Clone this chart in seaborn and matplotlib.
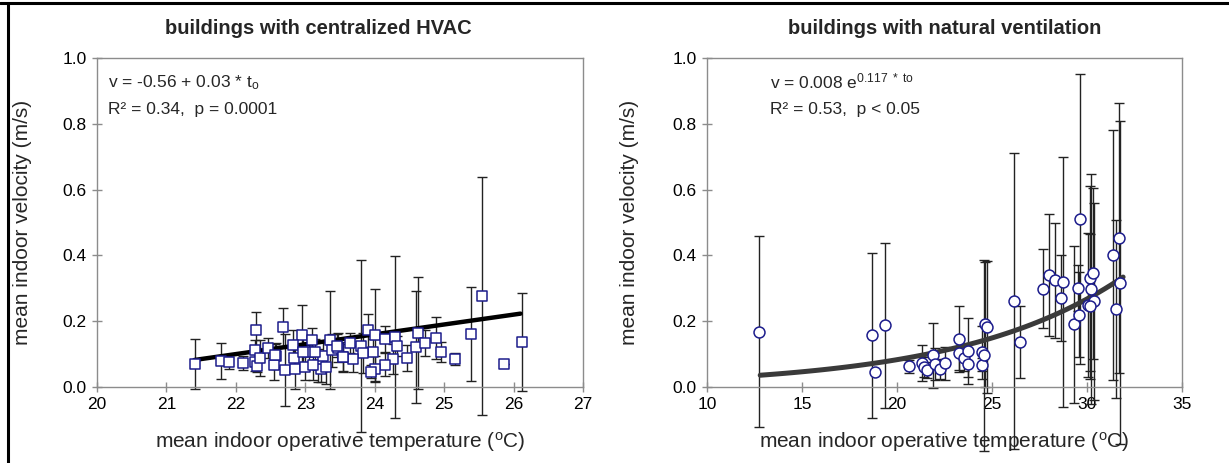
import numpy as np
import pandas as pd
import matplotlib
matplotlib.use("Agg")
import matplotlib.pyplot as plt
import seaborn as sns
from matplotlib.lines import Line2D

# buildings with centralized HVAC: mean operative temp, mean velocity, sd of velocity
hvac_t = [21.41, 21.79, 21.90, 22.10, 22.29, 22.28, 22.27, 22.30, 22.35, 22.68,
          22.58, 22.55, 22.71, 22.95, 22.84, 22.85, 23.10, 23.05, 23.18, 23.22,
          23.26, 23.36, 23.38, 23.30, 23.55, 23.47, 23.80, 23.90, 24.00, 24.15,
          24.29, 24.32, 24.27, 24.15, 24.00, 23.95, 23.97, 23.83, 23.69, 23.54,
          23.65, 23.45, 24.46, 24.60, 24.63, 24.73, 24.88, 24.95, 25.15, 25.38,
          25.54, 25.86, 26.12, 22.47, 22.56, 22.83, 22.97, 23.00, 23.11, 23.14]
hvac_v = [0.070, 0.079, 0.076, 0.073, 0.173, 0.112, 0.075, 0.065, 0.088, 0.182,
          0.094, 0.067, 0.052, 0.158, 0.088, 0.055, 0.143, 0.106, 0.066, 0.055,
          0.094, 0.143, 0.112, 0.060, 0.090, 0.120, 0.125, 0.173, 0.158, 0.146,
          0.152, 0.125, 0.085, 0.067, 0.055, 0.046, 0.107, 0.104, 0.085, 0.091,
          0.134, 0.125, 0.088, 0.122, 0.164, 0.134, 0.149, 0.107, 0.085, 0.161,
          0.277, 0.069, 0.137, 0.118, 0.097, 0.128, 0.107, 0.062, 0.067, 0.107]
hvac_sd = [0.075, 0.055, 0.022, 0.020, 0.055, 0.030, 0.025, 0.020, 0.055, 0.058,
           0.040, 0.045, 0.110, 0.090, 0.030, 0.060, 0.035, 0.040, 0.050, 0.040,
           0.045, 0.150, 0.050, 0.050, 0.040, 0.045, 0.262, 0.050, 0.140, 0.040,
           0.245, 0.030, 0.045, 0.035, 0.040, 0.020, 0.040, 0.060, 0.040, 0.045,
           0.030, 0.035, 0.040, 0.170, 0.170, 0.040, 0.064, 0.030, 0.018, 0.142,
           0.362, 0.000, 0.148, 0.030, 0.035, 0.045, 0.050, 0.040, 0.045, 0.040]
hvac_fit = (-0.56, 0.03)          # v = a + b * to
hvac_fit_range = [21.4, 26.1]

# buildings with natural ventilation
nv_t = [12.72, 18.68, 18.86, 19.35, 20.63, 21.30, 21.40, 21.60, 21.91, 22.00,
        22.26, 22.54, 23.26, 23.26, 23.53, 23.72, 23.75, 24.47, 24.47, 24.60,
        24.65, 24.74, 26.14, 26.49, 27.68, 28.00, 28.30, 28.72, 28.62, 29.30,
        29.50, 29.59, 29.65, 30.04, 30.16, 30.33, 30.21, 30.38, 30.16, 31.38,
        31.68, 31.74, 31.54]
nv_v = [0.168, 0.157, 0.045, 0.187, 0.063, 0.074, 0.060, 0.052, 0.096, 0.070,
        0.055, 0.072, 0.145, 0.103, 0.088, 0.110, 0.070, 0.068, 0.105, 0.096,
        0.190, 0.182, 0.262, 0.137, 0.298, 0.340, 0.325, 0.320, 0.270, 0.190,
        0.300, 0.220, 0.510, 0.249, 0.330, 0.345, 0.297, 0.260, 0.245, 0.400,
        0.453, 0.317, 0.237]
nv_sd = [0.290, 0.250, 0.000, 0.250, 0.020, 0.055, 0.030, 0.025, 0.100, 0.050,
         0.030, 0.050, 0.100, 0.050, 0.040, 0.100, 0.040, 0.020, 0.080, 0.290,
         0.190, 0.200, 0.450, 0.110, 0.120, 0.185, 0.175, 0.380, 0.130, 0.240,
         0.070, 0.130, 0.440, 0.220, 0.280, 0.260, 0.350, 0.300, 0.220, 0.380,
         0.410, 0.490, 0.270]
nv_fit = (0.008, 0.117)           # v = a * exp(b * to)
nv_fit_range = [12.8, 31.9]

sns.set_theme(style="white")
plt.rcParams["font.family"] = ["Liberation Sans", "DejaVu Sans"]
plt.rcParams["mathtext.fontset"] = "custom"
plt.rcParams["mathtext.rm"] = "Liberation Sans"
plt.rcParams["mathtext.it"] = "Liberation Sans:italic"

W, H = 1229, 463
fig = plt.figure(figsize=(W / 100, H / 100), dpi=100)
fig.patch.set_facecolor("white")


def px_axes(x0, x1, y_top, y_bot):
    return fig.add_axes([x0 / W, 1 - y_bot / H, (x1 - x0) / W, (y_bot - y_top) / H])


def style(ax, xlim, xticks, ylab_x):
    ax.set_xlim(*xlim)
    ax.set_ylim(0, 1.0)
    ax.set_xticks(xticks)
    ax.set_yticks(np.arange(0, 1.01, 0.2))
    ax.yaxis.set_major_formatter(matplotlib.ticker.FormatStrFormatter("%.1f"))
    for s in ax.spines.values():
        s.set_color("#8c8c8c")
        s.set_linewidth(1)
    ax.tick_params(direction="inout", length=7, width=1, color="#8c8c8c",
                   labelsize=12.5, labelcolor="black", pad=4,
                   bottom=True, left=True)
    ax.set_xlabel("mean indoor operative temperature ($^\\mathregular{o}$C)", fontsize=15)
    ax.set_ylabel("mean indoor velocity (m/s)", fontsize=15)
    ax.xaxis.set_label_coords(0.5, -0.13)
    ax.yaxis.set_label_coords(ylab_x, 0.5)


def bars(ax, t, v, sd):
    eb = ax.errorbar(t, v, yerr=sd, fmt="none", ecolor="#222222", elinewidth=1,
                     capsize=3.8, capthick=1, zorder=2)
    for art in list(eb.lines[1]) + list(eb.lines[2]):
        art.set_clip_on(False)


# left panel
ax1 = px_axes(97, 583, 58, 387)
df1 = pd.DataFrame({"t": hvac_t, "v": hvac_v})
bars(ax1, hvac_t, hvac_v, hvac_sd)
fx = np.array(hvac_fit_range)
sns.lineplot(x=fx, y=hvac_fit[0] + hvac_fit[1] * fx, ax=ax1, color="black",
             lw=3.2, zorder=3)
sns.scatterplot(data=df1, x="t", y="v", ax=ax1, marker="s", s=58,
                facecolor="white", edgecolor="#1c1c8c", linewidth=1.1, zorder=4)
style(ax1, (20, 27), range(20, 28), -0.134)
ax1.text(0.455, 1.09, "buildings with centralized HVAC", transform=ax1.transAxes,
         ha="center", va="center", fontsize=14.5, fontweight="bold")
ax1.text(0.022, 0.925, "v = -0.56 + 0.03 * t$_\\mathregular{o}$", transform=ax1.transAxes,
         ha="left", va="center", fontsize=12.5)
ax1.text(0.022, 0.842, "R² = 0.34,  p = 0.0001", transform=ax1.transAxes,
         ha="left", va="center", fontsize=12.5)

# right panel
ax2 = px_axes(707, 1182, 58, 387)
df2 = pd.DataFrame({"t": nv_t, "v": nv_v})
bars(ax2, nv_t, nv_v, nv_sd)
gx = np.linspace(nv_fit_range[0], nv_fit_range[1], 60)
sns.lineplot(x=gx, y=nv_fit[0] * np.exp(nv_fit[1] * gx), ax=ax2, color="#3a3a3a",
             lw=3.6, zorder=3)
sns.scatterplot(data=df2, x="t", y="v", ax=ax2, marker="o", s=62,
                facecolor="white", edgecolor="#1c1c8c", linewidth=1.1, zorder=4)
style(ax2, (10, 35), range(10, 36, 5), -0.143)
ax2.text(0.5, 1.09, "buildings with natural ventilation", transform=ax2.transAxes,
         ha="center", va="center", fontsize=14.5, fontweight="bold")
ax2.text(0.133, 0.93, "v = 0.008 e$^{\\mathregular{0.117\\ *\\ to}}$", transform=ax2.transAxes,
         ha="left", va="center", fontsize=12.5)
ax2.text(0.133, 0.842, "R² = 0.53,  p < 0.05", transform=ax2.transAxes,
         ha="left", va="center", fontsize=12.5)

# outer frame of the pasted charts
fig.add_artist(Line2D([0, 1], [1 - 3 / H, 1 - 3 / H], transform=fig.transFigure,
                      color="black", lw=2.2))
fig.add_artist(Line2D([8 / W, 8 / W], [0, 1 - 3 / H], transform=fig.transFigure,
                      color="black", lw=2.2))

fig.savefig("out.png", dpi=100)
